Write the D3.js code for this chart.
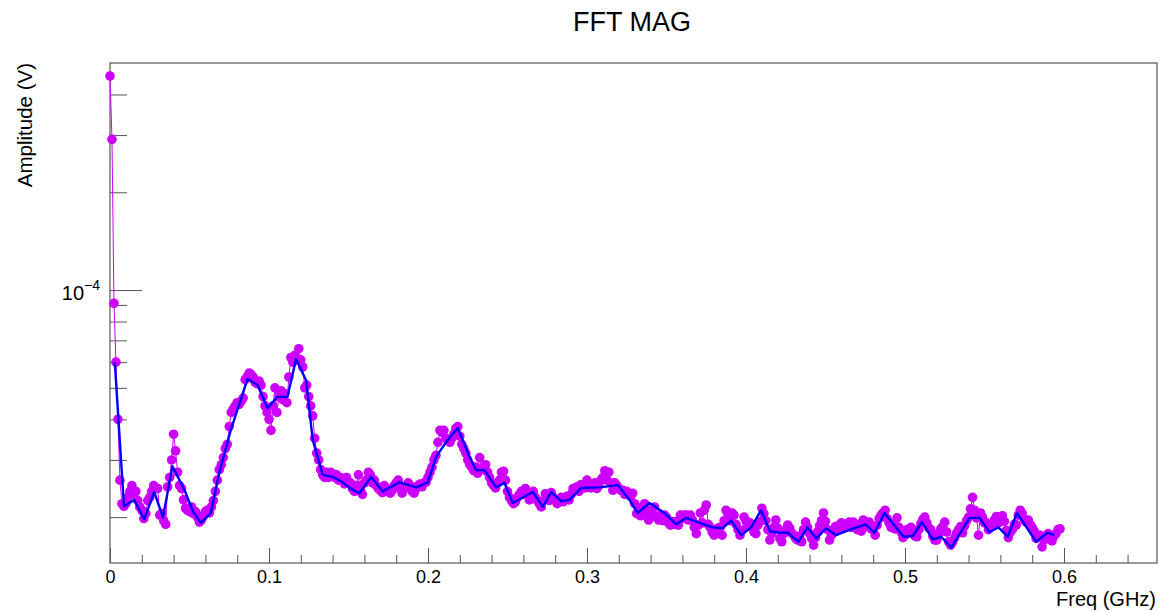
<!DOCTYPE html>
<html>
<head>
<meta charset="utf-8">
<script src="https://cdn.jsdelivr.net/npm/d3@7"></script>
<style>
  body { margin: 0; background: #fff; }
  text { font-family: "Liberation Sans", Arial, Helvetica, sans-serif; fill: #000; }
</style>
</head>
<body>
<svg id="fftsvg"></svg>
<script>

// FFT bin width (GHz); bin i sits at i * binWidth
var binWidth = 0.00125;

// FFT magnitude per bin, in microvolts
var magAmp = [
  456, 291, 91, 60, 40, 26, 22, 21.6, 22, 23,
  24, 25, 23.5, 24, 22.5, 21.5, 21, 19.8, 20.5, 22.5,
  23, 24, 25, 24.5, 24.5, 20.3, 20.5, 19.5, 19, 24.8,
  26.5, 30, 36, 32, 27.5, 25, 24.5, 22.6, 21.3, 21,
  20.8, 21.5, 20.5, 20.8, 20, 19.3, 19.6, 20.2, 20.8, 21,
  20.6, 21.5, 22.5, 24, 26, 28, 29, 30.5, 32.5, 33.5,
  38, 42, 43, 44, 45, 44.5, 45.5, 46.5, 53, 54,
  55.5, 55, 54, 52, 51.5, 52.5, 51, 47, 44, 42,
  40, 37, 44, 50, 42, 47, 49, 46, 48, 45,
  54, 62, 60, 63, 61, 66, 61, 58, 50, 51,
  47, 44, 41, 35, 31.5, 30, 28, 27, 26.5, 27.5,
  26.5, 27.5, 27.2, 26.5, 27, 26, 26.5, 26, 25.3, 26.5,
  25.5, 25.5, 24.5, 24, 25, 27, 24.2, 23.5, 25.5, 26,
  27.5, 27, 25.5, 26, 25, 24.5, 24.2, 23.8, 25, 24.5,
  24, 23.7, 24.2, 25, 25.5, 26, 24.5, 23.7, 24.5, 25,
  25.5, 25, 24, 23.7, 24.5, 25, 25.3, 24.8, 25.5, 25.6,
  26.5, 27.5, 28.5, 30, 31, 34, 37, 36.5, 37, 35,
  34.5, 34, 35, 36, 37.5, 38, 35.5, 33.5, 32.5, 31.5,
  30, 29, 28.5, 27.8, 28.5, 27.3, 30.5, 28, 28.3, 29,
  27.5, 26.5, 25.5, 25, 24.6, 25.5, 26, 27.5, 27.7, 26,
  24, 23, 22.5, 22, 22.3, 23, 23.5, 24, 23.5, 24.5,
  23.7, 22.6, 23.5, 24, 23, 22.5, 22, 21.5, 22.5, 23.6,
  23, 22.5, 23.8, 23, 22.6, 22, 22.6, 23, 22.3, 22.8,
  23.2, 22.6, 23.5, 24.5, 24.2, 24.8, 24, 25.2, 25, 24.6,
  26, 25, 24.6, 24.8, 25.5, 24.5, 25, 26, 26.5, 27.8,
  26, 27.5, 25.5, 24.2, 25.5, 25, 24.5, 24.2, 24.2, 23.5,
  24, 23.7, 23.2, 23.7, 22, 20.5, 21, 20.2, 21.5, 22,
  20.5, 19.6, 21, 20.5, 21.5, 20, 19.6, 20.3, 19.5, 20.3,
  20, 19.2, 18.9, 19.4, 19, 19.4, 18.9, 20.3, 19.8, 20.3,
  20.3, 19.6, 20.3, 19.6, 18.6, 17.8, 18.9, 20.6, 19.2, 21,
  21.8, 19, 18.6, 18, 17.6, 17.9, 18.5, 18.6, 17.6, 19.5,
  21, 20.3, 19.5, 20.6, 20.3, 19, 18.3, 17.6, 18.2, 20,
  19.5, 18.9, 19.2, 18.6, 18, 17.8, 18.9, 19.4, 21.3, 20.5,
  19.5, 18.3, 17, 17.8, 18.6, 19.6, 18.5, 17.2, 16.8, 17.8,
  18.3, 18.9, 18.5, 17.9, 17.6, 17.2, 17, 17.5, 16.8, 18.3,
  19.3, 18.6, 17.8, 17.2, 16.4, 17.3, 18, 18.8, 19.5, 20.6,
  19.4, 18.3, 17, 17.6, 18.3, 18.7, 18.3, 18.9, 19.2, 18.5,
  18.7, 19.1, 19.3, 18.6, 19.3, 18.8, 18.3, 19, 18.1, 19.6,
  18.7, 19.2, 19.3, 18.4, 18.3, 17.6, 18.9, 19.8, 20.3, 20.6,
  21, 19.8, 19.2, 18.6, 19, 18.4, 19.9, 18.6, 18, 17.3,
  17.6, 18.3, 17.9, 18.6, 18.3, 17.5, 17.4, 18.3, 19.1, 19.7,
  20, 19.2, 18.5, 18.3, 17.5, 17, 17, 17.8, 18.4, 18.7,
  19.3, 18, 16.8, 16.4, 16.8, 17.3, 17.9, 18.3, 18.7, 17.9,
  18.8, 19.5, 20, 21.2, 23, 21, 19.9, 17.6, 20.6, 20,
  19.2, 19.2, 18.3, 18.9, 19, 19.6, 20.1, 19.2, 19.5, 20.2,
  19.4, 18.2, 17.3, 18, 18.3, 19, 18.9, 20.3, 21, 20.5,
  19.6, 19.3, 19.6, 19, 18.6, 18.1, 17.2, 17.5, 17.6, 16.2,
  17, 17.3, 17.8, 17.2, 16.9, 17.5, 17.8, 18.3, 18.4
];

// smoothed spectrum: frequency (GHz) and amplitude (microvolts)
var smoothFreq = [
  0.0030, 0.0088, 0.0152, 0.0215, 0.0278, 0.0333, 0.0393, 0.0469, 0.0525, 0.0572,
  0.0634, 0.0687, 0.0760, 0.0865, 0.0928, 0.0991, 0.1053, 0.1116, 0.1170, 0.1233,
  0.1275, 0.1338, 0.1401, 0.1464, 0.1506, 0.1569, 0.1643, 0.1716, 0.1821, 0.1926,
  0.1999, 0.2052, 0.2115, 0.2187, 0.2261, 0.2303, 0.2355, 0.2429, 0.2481, 0.2533,
  0.2659, 0.2722, 0.2775, 0.2838, 0.2890, 0.2964, 0.3079, 0.3194, 0.3267, 0.3319,
  0.3393, 0.3487, 0.3561, 0.3624, 0.3708, 0.3791, 0.3854, 0.3907, 0.3970, 0.4033,
  0.4094, 0.4151, 0.4211, 0.4263, 0.4330, 0.4387, 0.4443, 0.4504, 0.4567, 0.4654,
  0.4752, 0.4808, 0.4871, 0.4991, 0.5049, 0.5107, 0.5175, 0.5228, 0.5291, 0.5406,
  0.5469, 0.5531, 0.5588, 0.5647, 0.5704, 0.5825, 0.5898, 0.5940
];
var smoothAmp = [
  60.0, 21.6, 22.6, 19.7, 23.9, 20.0, 28.7, 24.2, 20.7, 19.2,
  20.6, 27.4, 37.1, 53.2, 51.0, 43.3, 46.9, 46.9, 61.3, 52.8,
  34.6, 27.0, 26.6, 25.6, 24.6, 23.7, 26.6, 24.0, 25.6, 24.7,
  25.6, 30.7, 34.1, 37.6, 30.7, 27.9, 27.9, 24.7, 25.5, 22.1,
  23.9, 21.5, 23.9, 22.4, 22.6, 24.6, 24.7, 25.1, 22.6, 20.6,
  22.1, 20.6, 19.0, 19.9, 19.2, 18.6, 18.5, 19.5, 17.6, 18.6,
  21.0, 18.1, 17.9, 17.9, 16.8, 18.6, 17.2, 18.5, 17.6, 18.3,
  19.0, 17.9, 20.6, 17.4, 17.5, 19.3, 17.1, 17.4, 16.1, 19.9,
  19.9, 18.0, 18.6, 17.4, 20.6, 16.8, 17.9, 17.6
];

// axis ticks
var xMajorTicks = [0, 0.1, 0.2, 0.3, 0.4, 0.5, 0.6];
var xTickLabels = ["0", "0.1", "0.2", "0.3", "0.4", "0.5", "0.6"];
var xMinorTicks = [0.02, 0.04, 0.06, 0.08, 0.12, 0.14, 0.16, 0.18, 0.22, 0.24, 0.26, 0.28,
                   0.32, 0.34, 0.36, 0.38, 0.42, 0.44, 0.46, 0.48, 0.52, 0.54, 0.56, 0.58,
                   0.62, 0.64];
var yMajorTicks = [1e-4];
var yMinorTicks = [2e-5, 3e-5, 4e-5, 5e-5, 6e-5, 7e-5, 8e-5, 9e-5, 2e-4, 3e-4, 4e-4];

// set the dimensions and margins of the graph
var margin = {top: 63, right: 2, bottom: 48, left: 110},
    width = 1159 - margin.left - margin.right,
    height = 611 - margin.top - margin.bottom;

var magColor = "#cc00ff",
    smoothColor = "#0000ff",
    frameColor = "#555";

// set the ranges
var x = d3.scaleLinear().domain([0, 0.6585]).range([0, width]);
var y = d3.scaleLog().domain([1.445e-5, 5e-4]).range([height, 0]);

var toVolt = function(v) { return v * 1e-6; };

var magData = magAmp.map(function(v, i) { return {freq: i * binWidth, amp: toVolt(v)}; });
var smoothData = smoothFreq.map(function(f, i) { return {freq: f, amp: toVolt(smoothAmp[i])}; });

var svgRoot = d3.select("#fftsvg")
    .attr("width", 1159)
    .attr("height", 611);

// title
svgRoot.append("text")
    .attr("x", 632)
    .attr("y", 31)
    .attr("text-anchor", "middle")
    .attr("font-size", 27)
    .text("FFT MAG");

var svg = svgRoot.append("g")
    .attr("transform", "translate(" + margin.left + "," + margin.top + ")");

// axes, ticks pointing inward
function styleAxis(g) {
    g.select(".domain").remove();
    g.selectAll(".tick line").attr("stroke", frameColor);
    g.selectAll(".tick text").attr("font-size", 18).attr("fill", "#000");
}

svg.append("g")
    .attr("transform", "translate(0," + height + ")")
    .call(d3.axisBottom(x).tickValues(xMinorTicks).tickFormat("").tickSizeInner(-8).tickSizeOuter(0))
    .call(styleAxis);

svg.append("g")
    .attr("transform", "translate(0," + height + ")")
    .call(d3.axisBottom(x).tickValues(xMajorTicks)
        .tickFormat(function(d, i) { return xTickLabels[i]; })
        .tickSizeInner(-15).tickSizeOuter(0).tickPadding(7))
    .call(styleAxis);

svg.append("g")
    .call(d3.axisLeft(y).tickValues(yMinorTicks).tickFormat("").tickSizeInner(-17).tickSizeOuter(0))
    .call(styleAxis);

var yMajor = svg.append("g")
    .call(d3.axisLeft(y).tickValues(yMajorTicks).tickFormat("").tickSizeInner(-32).tickSizeOuter(0).tickPadding(10))
    .call(styleAxis);

// power-of-ten label
yMajor.selectAll(".tick text")
    .attr("font-size", 20)
    .attr("dy", "0.45em")
    .each(function(d) {
        var t = d3.select(this);
        t.append("tspan").text("10");
        t.append("tspan")
            .attr("font-size", 14)
            .attr("dy", "-0.7em")
            .text("\u2212" + Math.round(Math.log10(d)).toString().replace("-", ""));
    });

// frame
svg.append("rect")
    .attr("width", width)
    .attr("height", height)
    .attr("fill", "none")
    .attr("stroke", frameColor)
    .attr("stroke-width", 1.2);

// axis titles
svg.append("text")
    .attr("x", width - 1)
    .attr("y", height + 42.5)
    .attr("text-anchor", "end")
    .attr("font-size", 20)
    .text("Freq (GHz)");

svg.append("text")
    .attr("transform", "translate(" + (32 - margin.left) + ",0) rotate(-90)")
    .attr("text-anchor", "end")
    .attr("font-size", 20.5)
    .text("Amplitude (V)");

// define the lines
var valueline = d3.line()
    .x(function(d) { return x(d.freq); })
    .y(function(d) { return y(d.amp); });

var plot = svg.append("g");

// magnitude: thin line plus full-circle markers
plot.append("path")
    .datum(magData)
    .attr("fill", "none")
    .attr("stroke", magColor)
    .attr("stroke-width", 1)
    .attr("d", valueline);

plot.selectAll("circle")
    .data(magData)
    .enter().append("circle")
    .attr("r", 4.8)
    .attr("cx", function(d) { return x(d.freq); })
    .attr("cy", function(d) { return y(d.amp); })
    .attr("fill", magColor);

// smoothed curve on top
plot.append("path")
    .datum(smoothData)
    .attr("fill", "none")
    .attr("stroke", smoothColor)
    .attr("stroke-width", 2.4)
    .attr("stroke-linejoin", "round")
    .attr("d", valueline);

</script>
</body>
</html>
